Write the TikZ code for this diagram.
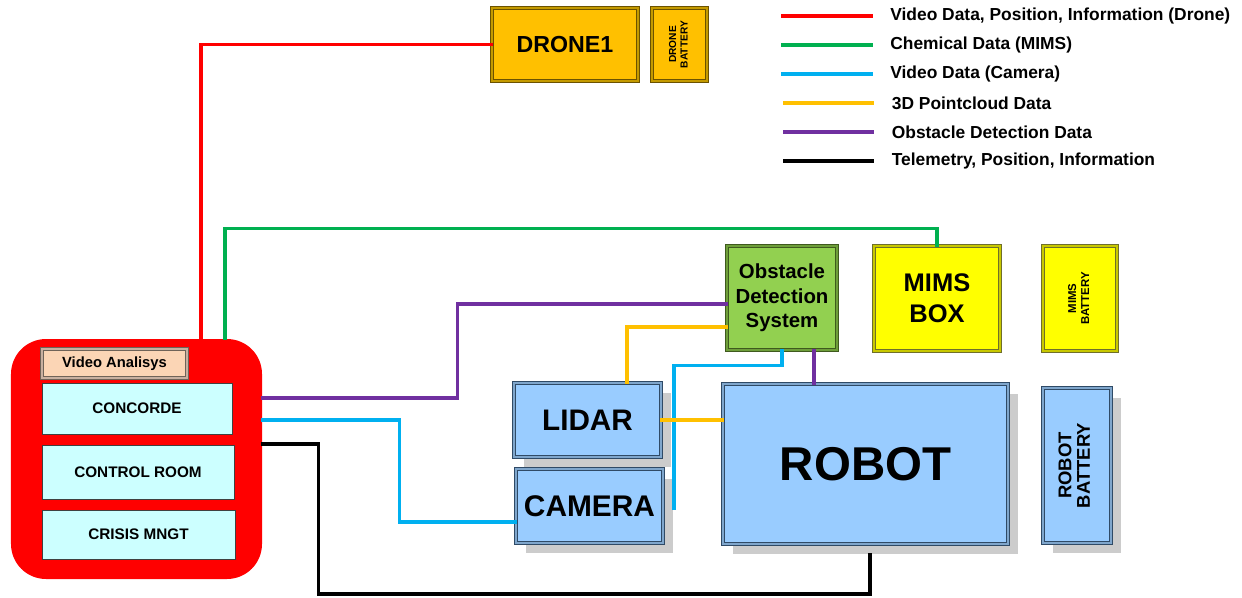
\documentclass[tikz,border=0pt]{standalone}
\usepackage{fontspec}
\setmainfont{Liberation Sans}
\usepackage{tikz}
\usetikzlibrary{positioning, shadows}
\definecolor{dronegold}{HTML}{FFC000}
\definecolor{droneedge}{HTML}{6B5200}
\definecolor{dronemid}{HTML}{C49A00}
\definecolor{mimsyellow}{HTML}{FFFF00}
\definecolor{mimsedge}{HTML}{6F6F2A}
\definecolor{mimsmid}{HTML}{C8C800}
\definecolor{odsgreen}{HTML}{92D050}
\definecolor{odsedge}{HTML}{3F5A1E}
\definecolor{odsmid}{HTML}{6E9E3A}
\definecolor{robotblue}{HTML}{99CCFF}
\definecolor{robotedge}{HTML}{2F4A66}
\definecolor{robotmid}{HTML}{7FA6CC}
\definecolor{opsred}{HTML}{FF0000}
\definecolor{vapeach}{HTML}{FBD5B5}
\definecolor{vaedge}{HTML}{6F6358}
\definecolor{vamid}{HTML}{C8B0A0}
\definecolor{panelcyan}{HTML}{CCFFFF}
\definecolor{paneledge}{HTML}{404040}
\definecolor{wirered}{HTML}{FF0000}
\definecolor{wiregreen}{HTML}{00B050}
\definecolor{wireblue}{HTML}{00B0F0}
\definecolor{wireyellow}{HTML}{FFC000}
\definecolor{wirepurple}{HTML}{7030A0}
\definecolor{wireblack}{HTML}{000000}

\begin{document}
\begin{tikzpicture}[
    unit/.style={
        rectangle,
        inner sep=0pt,
        align=center,
        line width=0.5pt,
        double distance=0.8pt
    },
    dronebox/.style={unit, draw=droneedge, double=dronemid, fill=dronegold},
    mimsbox/.style={unit, draw=mimsedge, double=mimsmid, fill=mimsyellow},
    odsbox/.style={unit, draw=odsedge, double=odsmid, fill=odsgreen},
    robotbox/.style={
        unit, draw=robotedge, double=robotmid, fill=robotblue,
        drop shadow={shadow xshift=0.2cm, shadow yshift=-0.2cm, fill=black!20, opacity=1}
    },
    panel/.style={rectangle, inner sep=0pt, draw=paneledge, line width=0.5pt, fill=panelcyan,
        font=\fontsize{8.7}{10}\selectfont\bfseries},
    wire/.style={line width=1.9pt, line cap=rect},
    legendtext/.style={anchor=west, inner sep=0pt, font=\fontsize{9.9}{12}\selectfont\bfseries}
]

\useasboundingbox (0,0) rectangle (24.84,-11.94);

% DRONE
\node[dronebox, minimum width=2.92cm, minimum height=1.46cm,
      font=\fontsize{13.2}{16}\selectfont\bfseries] (drone) at (11.30,-0.89) {DRONE1};
\node[dronebox, minimum width=1.10cm, minimum height=1.46cm,
      font=\fontsize{5.8}{6.6}\selectfont\bfseries] (dronebat) at (13.59,-0.89)
      {\rotatebox{90}{\begin{tabular}{@{}c@{}}DRONE\\BATTERY\end{tabular}}};

% LEGEND
\foreach \col/\txt [count=\i] in {
    wirered/{Video Data, Position, Information (Drone)},
    wiregreen/{Chemical Data (MIMS)},
    wireblue/{Video Data (Camera)},
    wireyellow/{3D Pointcloud Data},
    wirepurple/{Obstacle Detection Data},
    wireblack/{Telemetry, Position, Information}}
{
    \node[legendtext] (leg\i) at ({17.80+0.03*(\i>3)}, {-0.32-0.58*(\i-1)}) {\txt};
    \draw[wire, \col] (leg\i.west) ++(-2.14,0) -- ++(1.76,0);
}

% ROBOT SIDE
\node[odsbox, minimum width=2.20cm, minimum height=2.08cm,
      font=\fontsize{11.6}{14}\selectfont\bfseries] (ods) at (15.64,-5.96) {Obstacle\\Detection\\System};
\node[mimsbox, minimum width=2.52cm, minimum height=2.10cm,
      font=\fontsize{14.5}{17.4}\selectfont\bfseries] (mims) at (18.74,-5.97) {MIMS\\BOX};
\node[mimsbox, minimum width=1.48cm, minimum height=2.10cm,
      font=\fontsize{6.5}{7.5}\selectfont\bfseries] (mimsbat) at (21.60,-5.97)
      {\rotatebox{90}{\begin{tabular}{@{}c@{}}MIMS\\BATTERY\end{tabular}}};
\node[robotbox, minimum width=5.70cm, minimum height=3.20cm,
      font=\fontsize{27}{32}\selectfont\bfseries] (robot) at (17.31,-9.28) {ROBOT};
\node[robotbox, minimum width=1.36cm, minimum height=3.10cm,
      font=\fontsize{10.5}{10.5}\selectfont\bfseries] (robotbat) at (21.54,-9.31)
      {\rotatebox{90}{\begin{tabular}{@{}c@{}}ROBOT\\BATTERY\end{tabular}}};
\node[robotbox, minimum width=2.94cm, minimum height=1.48cm,
      font=\fontsize{16.9}{20}\selectfont\bfseries] (lidar) at (11.75,-8.40) {LIDAR};
\node[robotbox, minimum width=2.94cm, minimum height=1.48cm,
      font=\fontsize{17}{20}\selectfont\bfseries] (camera) at (11.79,-10.12) {CAMERA};

% OPERATIONS CENTRE
\node[rectangle, fill=opsred, rounded corners=0.7cm, minimum width=5.02cm, minimum height=4.80cm]
      (ops) at (2.73,-9.18) {};
\node[unit, draw=vaedge, double=vamid, fill=vapeach, minimum width=2.90cm, minimum height=0.58cm,
      font=\fontsize{8.4}{10}\selectfont\bfseries] (video) at (2.29,-7.27) {Video Analisys};
\node[panel, minimum width=3.80cm, minimum height=1.02cm] (concorde) at (2.74,-8.17) {CONCORDE};
\node[panel, minimum width=3.84cm, minimum height=1.08cm] (control) at (2.76,-9.44) {CONTROL ROOM};
\node[panel, minimum width=3.86cm, minimum height=0.98cm] (crisis) at (2.77,-10.69) {CRISIS MNGT};

\coordinate (camtap) at (13.48,-10.16);

% LINKS
\draw[wire, wirered] ([xshift=1.29cm]ops.north) |- (drone.west);
\draw[wire, wiregreen] ([xshift=1.77cm]ops.north) -- ++(0,2.20) -| (mims.north);
\draw[wire, wirepurple] ([yshift=1.22cm]ops.east) -- ++(3.90,0) |- ([yshift=-0.12cm]ods.west);
\draw[wire, wirepurple] ([xshift=0.64cm]ods.south) -- ([xshift=0.64cm]ods.south |- robot.north);
\draw[wire, wireblue] ([yshift=0.78cm]ops.east) -- ++(2.74,0) |- ([yshift=-0.32cm]camera.west);
\draw[wire, wireblue] (ods.south) -- ++(0,-0.30) -| (camtap);
\draw[wire, wireyellow] ([yshift=-0.58cm]ods.west) -| ([xshift=0.79cm]lidar.north);
\draw[wire, wireyellow] (lidar.east) -- (lidar.east -| robot.west);
\draw[wire, wireblack, shorten >=0.2cm] ([yshift=0.30cm]ops.east) -- ++(1.12,0) -- ++(0,-3.00)
    -| ([xshift=0.09cm]robot.south);

\end{tikzpicture}
\end{document}
